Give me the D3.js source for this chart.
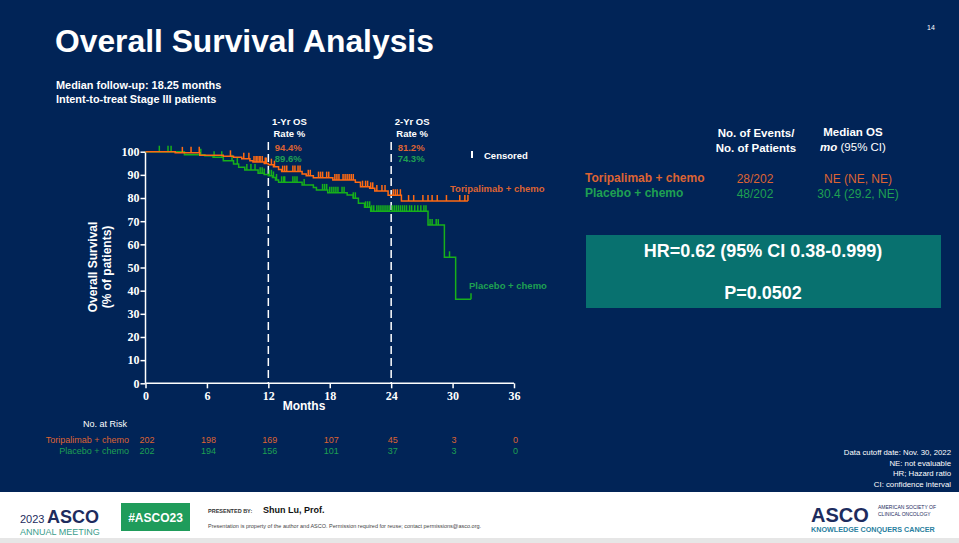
<!DOCTYPE html>
<html><head><meta charset="utf-8">
<script src="https://cdn.jsdelivr.net/npm/d3@7"></script>
<style>
html,body{margin:0;padding:0;background:#012457;}
svg{display:block;}
</style></head><body>
<svg id="c" width="959" height="543" font-family="'Liberation Sans',Arial,sans-serif"></svg>
<script>
// ---------------- DATA ----------------
const xTicks = [0, 6, 12, 18, 24, 30, 36];
const yTicks = [0, 10, 20, 30, 40, 50, 60, 70, 80, 90, 100];

const toriTime = [0, 2.9, 5.3, 7.6, 8.6, 9.4, 10.2, 10.5, 11.6, 12.0, 12.5, 13.0, 13.3, 15.3, 15.7, 16.4, 18.3, 20.5, 21.0, 21.9, 22.4, 23.7, 25.0];
const toriSurv = [100, 99.5, 98.5, 98.0, 97.6, 97.0, 96.1, 95.6, 94.9, 94.4, 93.5, 92.3, 91.4, 90.4, 89.6, 88.8, 87.8, 86.8, 84.9, 84.2, 83.0, 81.2, 78.7];
const toriEnd = 31.5;
const toriCensor = [3.6, 4.45, 5.25, 8.3, 9.6, 10.1, 10.6, 10.8, 10.9, 11.1, 11.2, 11.4, 11.7, 11.8, 12.3, 12.6, 13.4, 13.6, 13.8, 14.4, 14.6, 14.9, 15.1, 15.9, 16.1, 16.9, 17.1, 17.3, 17.7, 17.9, 18.5, 18.7, 18.9, 19.3, 19.5, 19.7, 19.9, 20.1, 20.3, 21.2, 21.5, 21.7, 22.0, 22.2, 22.6, 23.1, 23.4, 24.2, 24.4, 24.6, 24.9, 25.7, 26.2, 27.1, 27.6, 28.0, 28.5, 29.4, 30.7, 31.2, 31.5];

const placTime = [0, 3.8, 5.8, 6.6, 7.6, 8.6, 9.1, 9.7, 11.0, 11.6, 12.0, 12.4, 12.7, 13.0, 15.3, 16.4, 16.7, 17.8, 19.7, 20.3, 20.8, 21.4, 22.0, 27.6, 29.2, 30.3];
const placSurv = [100, 98.7, 98.3, 97.6, 96.1, 94.7, 93.3, 92.1, 90.7, 90.2, 89.6, 88.9, 87.8, 86.8, 85.6, 84.5, 83.5, 82.3, 81.3, 79.9, 77.7, 76.0, 74.3, 68.3, 54.4, 36.3];
const placEnd = 31.8;
const placCensor = [1.35, 2.2, 2.5, 5.4, 6.7, 7.45, 8.45, 8.97, 9.9, 10.3, 10.7, 11.2, 11.4, 11.6, 12.1, 12.3, 12.5, 12.8, 13.3, 13.5, 13.6, 14.4, 14.6, 14.8, 15.5, 17.3, 17.5, 17.7, 18.0, 18.2, 18.4, 18.6, 18.8, 19.2, 19.4, 20.3, 20.5, 21.5, 21.7, 21.9, 22.1, 22.3, 22.6, 22.8, 23.0, 23.2, 23.4, 23.6, 23.8, 24.1, 24.3, 24.5, 24.7, 24.9, 25.1, 25.3, 25.5, 25.8, 26.0, 26.3, 26.6, 26.9, 27.2, 27.4, 27.8, 28.0, 28.4, 28.6, 29.7, 31.8];

const riskTimes = [0, 6, 12, 18, 24, 30, 36];
const riskTori = [202, 198, 169, 107, 45, 3, 0];
const riskPlac = [202, 194, 156, 101, 37, 3, 0];

const osMarks = [12, 24];
const osTori = ["94.4%", "81.2%"];
const osPlac = ["89.6%", "74.3%"];

const groupNames = ["Toripalimab + chemo", "Placebo + chemo"];
const events = ["28/202", "48/202"];
const medianOS = ["NE (NE, NE)", "30.4 (29.2, NE)"];

// ---------------- STYLE ----------------
const BG = "#012457";
const ORANGE_LINE = "#ff6a13";
const GREEN_LINE = "#17b01b";
const ORANGE_TXT = "#dd6333";
const GREEN_TXT = "#1fa052";
const TEAL = "#08716f";
const SERIF = "'Liberation Serif','Times New Roman',serif";

const svg = d3.select("#c");
svg.append("rect").attr("width", 959).attr("height", 543).attr("fill", BG);

const x = d3.scaleLinear().domain([0, 36]).range([145.5, 514]);
const y = d3.scaleLinear().domain([0, 100]).range([383.3, 151.7]);

// title
svg.append("text").attr("x", 55).attr("y", 52).attr("fill", "#fff")
  .attr("font-size", 31.8).attr("font-weight", "bold").text("Overall Survival Analysis");
svg.append("text").attr("x", 56).attr("y", 89).attr("fill", "#fff")
  .attr("font-size", 10.9).attr("font-weight", "bold").text("Median follow-up: 18.25 months");
svg.append("text").attr("x", 56).attr("y", 103).attr("fill", "#fff")
  .attr("font-size", 10.9).attr("font-weight", "bold").text("Intent-to-treat Stage III patients");
svg.append("text").attr("x", 927).attr("y", 30).attr("fill", "#fff")
  .attr("font-size", 7).text("14");

// axes
const yAxis = d3.axisLeft(y).tickValues(yTicks).tickSize(5).tickFormat(d3.format("d"));
const xAxis = d3.axisBottom(x).tickValues(xTicks).tickSize(5).tickFormat(d3.format("d"));
const gy = svg.append("g").attr("transform", `translate(${x(0)},0)`).call(yAxis);
const gx = svg.append("g").attr("transform", `translate(0,${y(0)})`).call(xAxis);
[gy, gx].forEach(g => {
  g.attr("font-family", SERIF).attr("font-size", 12);
  g.selectAll("path,line").attr("stroke", "#fff").attr("stroke-width", 1.5);
  g.selectAll("text").attr("fill", "#fff").attr("font-weight", "bold");
});
gy.select("path.domain").attr("d", `M0,${y(100)}V${y(0)}`);
gx.select("path.domain").attr("d", `M${x(0)},0H${x(36)}`);
gy.selectAll("text").attr("x", -6);
gx.selectAll("text").attr("y", 8);

svg.append("text").attr("x", 304).attr("y", 410).attr("text-anchor", "middle").attr("fill", "#fff")
  .attr("font-size", 12).attr("font-weight", "bold").text("Months");
const yl = svg.append("text").attr("transform", "translate(97,267) rotate(-90)")
  .attr("text-anchor", "middle").attr("fill", "#fff").attr("font-size", 12).attr("font-weight", "bold");
yl.append("tspan").attr("x", 0).attr("y", 0).text("Overall Survival");
yl.append("tspan").attr("x", 0).attr("y", 14).text("(% of patients)");

// dashed landmark lines
osMarks.forEach(m => {
  svg.append("line").attr("x1", x(m)).attr("x2", x(m)).attr("y1", 142).attr("y2", y(0))
    .attr("stroke", "#fff").attr("stroke-width", 1.5).attr("stroke-dasharray", "8,4");
});
osMarks.forEach((m, i) => {
  const cx = x(m) + 21;
  svg.append("text").attr("x", cx).attr("y", 125).attr("text-anchor", "middle").attr("fill", "#fff")
    .attr("font-size", 9.5).attr("font-weight", "bold").text((i + 1) + "-Yr OS");
  svg.append("text").attr("x", cx).attr("y", 137).attr("text-anchor", "middle").attr("fill", "#fff")
    .attr("font-size", 9.5).attr("font-weight", "bold").text("Rate %");
  svg.append("text").attr("x", x(m) + 6.5).attr("y", 151).attr("fill", ORANGE_TXT)
    .attr("font-size", 9.5).attr("font-weight", "bold").text(osTori[i]);
  svg.append("text").attr("x", x(m) + 6.5).attr("y", 162).attr("fill", GREEN_TXT)
    .attr("font-size", 9.5).attr("font-weight", "bold").text(osPlac[i]);
});

// curves
function stepPts(times, surv, end) {
  const pts = times.map((t, i) => [t, surv[i]]);
  pts.push([end, surv[surv.length - 1]]);
  return pts;
}
function survAt(times, surv, t) {
  let s = surv[0];
  for (let i = 0; i < times.length; i++) if (times[i] <= t) s = surv[i];
  return s;
}
const line = d3.line().x(d => x(d[0])).y(d => y(d[1])).curve(d3.curveStepAfter);
const series = [
  {times: placTime, surv: placSurv, end: placEnd, cens: placCensor, color: GREEN_LINE},
  {times: toriTime, surv: toriSurv, end: toriEnd, cens: toriCensor, color: ORANGE_LINE}
];
series.forEach(s => {
  svg.append("path").attr("d", line(stepPts(s.times, s.surv, s.end)))
    .attr("fill", "none").attr("stroke", s.color).attr("stroke-width", 1.5);
  svg.append("g").selectAll("line").data(s.cens).join("line")
    .attr("x1", d => x(d)).attr("x2", d => x(d))
    .attr("y1", d => y(survAt(s.times, s.surv, d)) - 6)
    .attr("y2", d => y(survAt(s.times, s.surv, d)))
    .attr("stroke", s.color).attr("stroke-width", 1.5);
});

// censored legend
svg.append("line").attr("x1", 472).attr("x2", 472).attr("y1", 151).attr("y2", 158)
  .attr("stroke", "#fff").attr("stroke-width", 2);
svg.append("text").attr("x", 484).attr("y", 159).attr("fill", "#fff")
  .attr("font-size", 9.5).attr("font-weight", "bold").text("Censored");
svg.append("text").attr("x", 450).attr("y", 192).attr("fill", ORANGE_TXT)
  .attr("font-size", 9.5).attr("font-weight", "bold").text(groupNames[0]);
svg.append("text").attr("x", 469).attr("y", 289).attr("fill", GREEN_TXT)
  .attr("font-size", 9.5).attr("font-weight", "bold").text(groupNames[1]);

// risk table
svg.append("text").attr("x", 83).attr("y", 427).attr("fill", "#fff").attr("font-size", 9).text("No. at Risk");
[[riskTori, ORANGE_TXT, 443], [riskPlac, GREEN_TXT, 454]].forEach((r, i) => {
  svg.append("text").attr("x", 129).attr("y", r[2]).attr("text-anchor", "end").attr("fill", r[1])
    .attr("font-size", 9).text(groupNames[i]);
  svg.append("g").selectAll("text").data(riskTimes).join("text")
    .attr("x", d => x(d) + 1.5).attr("y", r[2]).attr("text-anchor", "middle").attr("fill", r[1])
    .attr("font-size", 9).text((d, j) => r[0][j]);
});

// right table
const hdr = (t, cx, yy) => svg.append("text").attr("x", cx).attr("y", yy).attr("text-anchor", "middle")
  .attr("fill", "#fff").attr("font-size", 11.5).attr("font-weight", "bold").text(t);
hdr("No. of Events/", 756, 137);
hdr("No. of Patients", 756, 152);
hdr("Median OS", 853, 136);
const mo = svg.append("text").attr("x", 853).attr("y", 151).attr("text-anchor", "middle")
  .attr("fill", "#fff").attr("font-size", 11.5).attr("font-weight", "bold");
mo.append("tspan").attr("font-style", "italic").text("mo");
mo.append("tspan").attr("font-weight", "normal").text(" (95% CI)");

[ORANGE_TXT, GREEN_TXT].forEach((c, i) => {
  const yy = 182 + i * 15;
  svg.append("text").attr("x", 585).attr("y", yy).attr("fill", c).attr("font-size", 12)
    .attr("font-weight", "bold").text(groupNames[i]);
  svg.append("text").attr("x", 755).attr("y", yy + 1).attr("text-anchor", "middle").attr("fill", c)
    .attr("font-size", 12).text(events[i]);
  svg.append("text").attr("x", 858).attr("y", yy + 1).attr("text-anchor", "middle").attr("fill", c)
    .attr("font-size", 12).text(medianOS[i]);
});

svg.append("rect").attr("x", 586).attr("y", 235).attr("width", 355).attr("height", 73).attr("fill", TEAL);
svg.append("text").attr("x", 763).attr("y", 257).attr("text-anchor", "middle").attr("fill", "#fff")
  .attr("font-size", 18).attr("font-weight", "bold").text("HR=0.62 (95% CI 0.38-0.999)");
svg.append("text").attr("x", 763).attr("y", 299).attr("text-anchor", "middle").attr("fill", "#fff")
  .attr("font-size", 18).attr("font-weight", "bold").text("P=0.0502");

// notes
["Data cutoff date: Nov. 30, 2022", "NE: not evaluable", "HR; Hazard ratio", "CI: confidence interval"]
  .forEach((t, i) => svg.append("text").attr("x", 951).attr("y", 455 + i * 10.5).attr("text-anchor", "end")
    .attr("fill", "#fff").attr("font-size", 7.8).text(t));

// footer
svg.append("rect").attr("x", 0).attr("y", 492).attr("width", 959).attr("height", 51).attr("fill", "#fff");
svg.append("rect").attr("x", 0).attr("y", 538).attr("width", 959).attr("height", 5).attr("fill", "#e6e6e6");
svg.append("text").attr("x", 20).attr("y", 523).attr("fill", "#1d2c5e").attr("font-size", 11).text("2023");
svg.append("text").attr("x", 47).attr("y", 523).attr("fill", "#1d2c5e").attr("font-size", 18)
  .attr("font-weight", "bold").text("ASCO");
svg.append("text").attr("x", 20).attr("y", 535).attr("fill", "#3a9d8c").attr("font-size", 9).text("ANNUAL MEETING");
svg.append("rect").attr("x", 121).attr("y", 503).attr("width", 69).attr("height", 28).attr("fill", "#1f9c5b");
svg.append("text").attr("x", 155.5).attr("y", 522).attr("text-anchor", "middle").attr("fill", "#fff")
  .attr("font-size", 12).attr("font-weight", "bold").text("#ASCO23");
svg.append("text").attr("x", 208).attr("y", 513).attr("fill", "#333").attr("font-size", 5.5)
  .attr("font-weight", "bold").text("PRESENTED BY:");
svg.append("text").attr("x", 263).attr("y", 513).attr("fill", "#111").attr("font-size", 9)
  .attr("font-weight", "bold").text("Shun Lu, Prof.");
svg.append("text").attr("x", 208).attr("y", 528).attr("fill", "#444").attr("font-size", 5.5)
  .text("Presentation is property of the author and ASCO. Permission required for reuse; contact permissions@asco.org.");
svg.append("text").attr("x", 811).attr("y", 522).attr("fill", "#1d2c5e").attr("font-size", 20)
  .attr("font-weight", "bold").text("ASCO");
svg.append("text").attr("x", 878).attr("y", 509).attr("fill", "#1d2c5e").attr("font-size", 5).text("AMERICAN SOCIETY OF");
svg.append("text").attr("x", 878).attr("y", 516).attr("fill", "#1d2c5e").attr("font-size", 5).text("CLINICAL ONCOLOGY");
svg.append("text").attr("x", 811).attr("y", 532).attr("fill", "#2a7fa0").attr("font-size", 7.2)
  .attr("font-weight", "bold").text("KNOWLEDGE CONQUERS CANCER");
</script>
</body></html>
